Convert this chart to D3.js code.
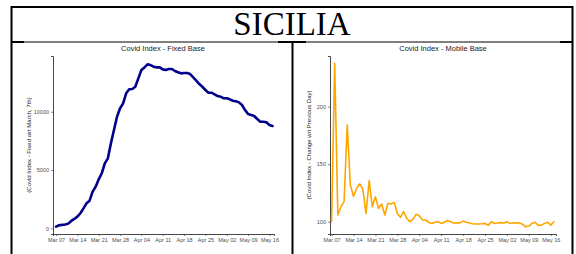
<!DOCTYPE html>
<html>
<head>
<meta charset="utf-8">
<script src="https://cdn.jsdelivr.net/npm/d3@7"></script>
<style>
  body { margin: 0; background: #fff; }
  text { font-family: "Liberation Sans", Arial, sans-serif; }
</style>
</head>
<body>
<script>
// region + chart titles
var regionName = "SICILIA";
var fixedTitle = "Covid Index - Fixed Base";
var mobileTitle = "Covid Index - Mobile Base";
var fixedYLabel = "(Covid Index - Fixed wrt March, 7th)";
var mobileYLabel = "(Covid Index - Change wrt Previous Day)";

// daily series, starting 2020-03-07
var startDate = "2020-03-07";
var fixedValues = [140, 260, 290, 320, 400, 630, 800, 1000, 1290, 1710, 2140, 2370, 3140, 3570,
  4200, 4720, 5570, 6000, 7290, 8430, 9570, 10290, 10720, 11580, 11920, 11950, 12140, 12860,
  13580, 13800, 14060, 14000, 13860, 13800, 13800, 13630, 13580, 13660, 13660, 13490, 13380,
  13290, 13320, 13320, 13230, 12950, 12660, 12370, 12140, 11860, 11630, 11630, 11490, 11340,
  11290, 11150, 11150, 11060, 10940, 10890, 10800, 10570, 10140, 9800, 9720, 9630, 9370, 9140,
  9140, 9090, 8860, 8770];
var mobileValues = [100, 237.7, 105.8, 113, 117.4, 184, 132, 122, 129, 132.8, 128, 107, 135.7,
  113, 121.7, 111.6, 115.4, 105.8, 116, 115.4, 116.8, 107, 103.8, 108.7, 103, 100, 102.3, 106.4,
  105.2, 101.5, 101.5, 99.5, 98.5, 99.5, 100, 98.5, 99.5, 101, 100, 98.8, 99, 99, 100.5, 99.5,
  98.8, 98.2, 98, 98, 98.2, 98.5, 96.8, 100, 98.5, 98.8, 99.2, 98.8, 100, 98.5, 99, 99, 98.8,
  97.7, 95.6, 96.2, 98.5, 99.5, 96.8, 97, 98.5, 99.5, 97, 100];

var xTickLabels = ["Mar 07", "Mar 14", "Mar 21", "Mar 28", "Apr 04", "Apr 11", "Apr 18",
  "Apr 25", "May 02", "May 09", "May 16"];
var fixedYTicks = [0, 5000, 10000];
var mobileYTicks = [100, 150, 200];

var W = 576, H = 254;
var parseDay = d3.utcParse("%Y-%m-%d");
var parseTick = d3.utcParse("%Y %b %d");
var fmt = d3.utcFormat("%b %d");
var t0 = parseDay(startDate);
var tickDates = xTickLabels.map(function(s) { return parseTick("2020 " + s); });

function series(vals) {
  return vals.map(function(v, i) { return {date: d3.utcDay.offset(t0, i), value: v}; });
}

var svg = d3.select("body").append("svg")
  .attr("width", W).attr("height", H);

// table frame
var frame = svg.append("g").attr("stroke", "#000").attr("fill", "none");
frame.append("path").attr("stroke-width", 2)
  .attr("d", "M11.5," + H + "V7H572.5V" + H);
frame.append("line").attr("stroke-width", 1)
  .attr("x1", 11).attr("x2", 573).attr("y1", 42).attr("y2", 42);
frame.append("line").attr("stroke-width", 2)
  .attr("x1", 11).attr("x2", 24).attr("y1", 42).attr("y2", 42);
frame.append("line").attr("stroke-width", 2)
  .attr("x1", 278).attr("x2", 306).attr("y1", 42).attr("y2", 42);
frame.append("line").attr("stroke-width", 2)
  .attr("x1", 560).attr("x2", 573).attr("y1", 42).attr("y2", 42);
frame.append("line").attr("stroke-width", 2)
  .attr("x1", 292.5).attr("x2", 292.5).attr("y1", 42).attr("y2", H);

svg.append("text")
  .attr("x", 292).attr("y", 35)
  .attr("text-anchor", "middle")
  .style("font-family", "'Liberation Serif', 'Times New Roman', serif")
  .style("font-size", "33px")
  .text(regionName);

function drawPanel(opt) {
  var g = svg.append("g");
  var x = d3.scaleUtc().domain(opt.xDomain).range([opt.left, opt.right]);
  var y = d3.scaleLinear().domain(opt.yDomain).range([opt.bottom, opt.top]);

  g.append("text")
    .attr("x", opt.titleX).attr("y", 50.5)
    .attr("text-anchor", "middle")
    .style("font-size", "7.5px").attr("fill", "#1a1a1a")
    .text(opt.title);

  var xa = g.append("g")
    .attr("transform", "translate(0," + opt.bottom + ")")
    .call(d3.axisBottom(x).tickValues(tickDates).tickFormat(fmt).tickSizeOuter(0).tickSize(2).tickPadding(2));
  var ya = g.append("g")
    .attr("transform", "translate(" + opt.left + ",0)")
    .call(d3.axisLeft(y).tickValues(opt.yTicks).tickFormat(d3.format("d")).tickSizeOuter(0).tickSize(2).tickPadding(2));
  [xa, ya].forEach(function(a) {
    a.select(".domain").attr("stroke", "#333").attr("stroke-width", 0.9);
    a.selectAll(".tick line").attr("stroke", "#333").attr("stroke-width", 0.6);
    a.selectAll(".tick text").attr("fill", "#4d4d4d").style("font-size", "5.5px")
      .style("font-family", "'Liberation Sans', Arial, sans-serif");
  });

  g.append("text")
    .attr("transform", "translate(" + opt.labelX + "," + ((opt.top + opt.bottom) / 2) + ") rotate(-90)")
    .attr("text-anchor", "middle")
    .style("font-size", "6px").attr("fill", "#1a1a1a")
    .text(opt.yLabel);

  var line = d3.line()
    .x(function(d) { return x(d.date); })
    .y(function(d) { return y(d.value); });

  g.append("path")
    .datum(opt.data)
    .attr("fill", "none")
    .attr("stroke", opt.color)
    .attr("stroke-width", opt.width)
    .attr("stroke-linejoin", "round")
    .attr("stroke-linecap", "round")
    .attr("d", line);
}

drawPanel({
  data: series(fixedValues),
  xDomain: [d3.utcHour.offset(t0, -24), d3.utcHour.offset(t0, 24 * 71.5)],
  yDomain: [-490, 14777],
  yTicks: fixedYTicks,
  left: 53, right: 274, top: 56, bottom: 234,
  titleX: 163, labelX: 31,
  title: fixedTitle, yLabel: fixedYLabel,
  color: "#00008b", width: 2.6
});

drawPanel({
  data: series(mobileValues),
  xDomain: [d3.utcHour.offset(t0, -12), d3.utcHour.offset(t0, 24 * 71.7)],
  yDomain: [89.3, 244],
  yTicks: mobileYTicks,
  left: 330, right: 556, top: 56, bottom: 234,
  titleX: 443, labelX: 311,
  title: mobileTitle, yLabel: mobileYLabel,
  color: "#ffa500", width: 1.6
});
</script>
</body>
</html>
